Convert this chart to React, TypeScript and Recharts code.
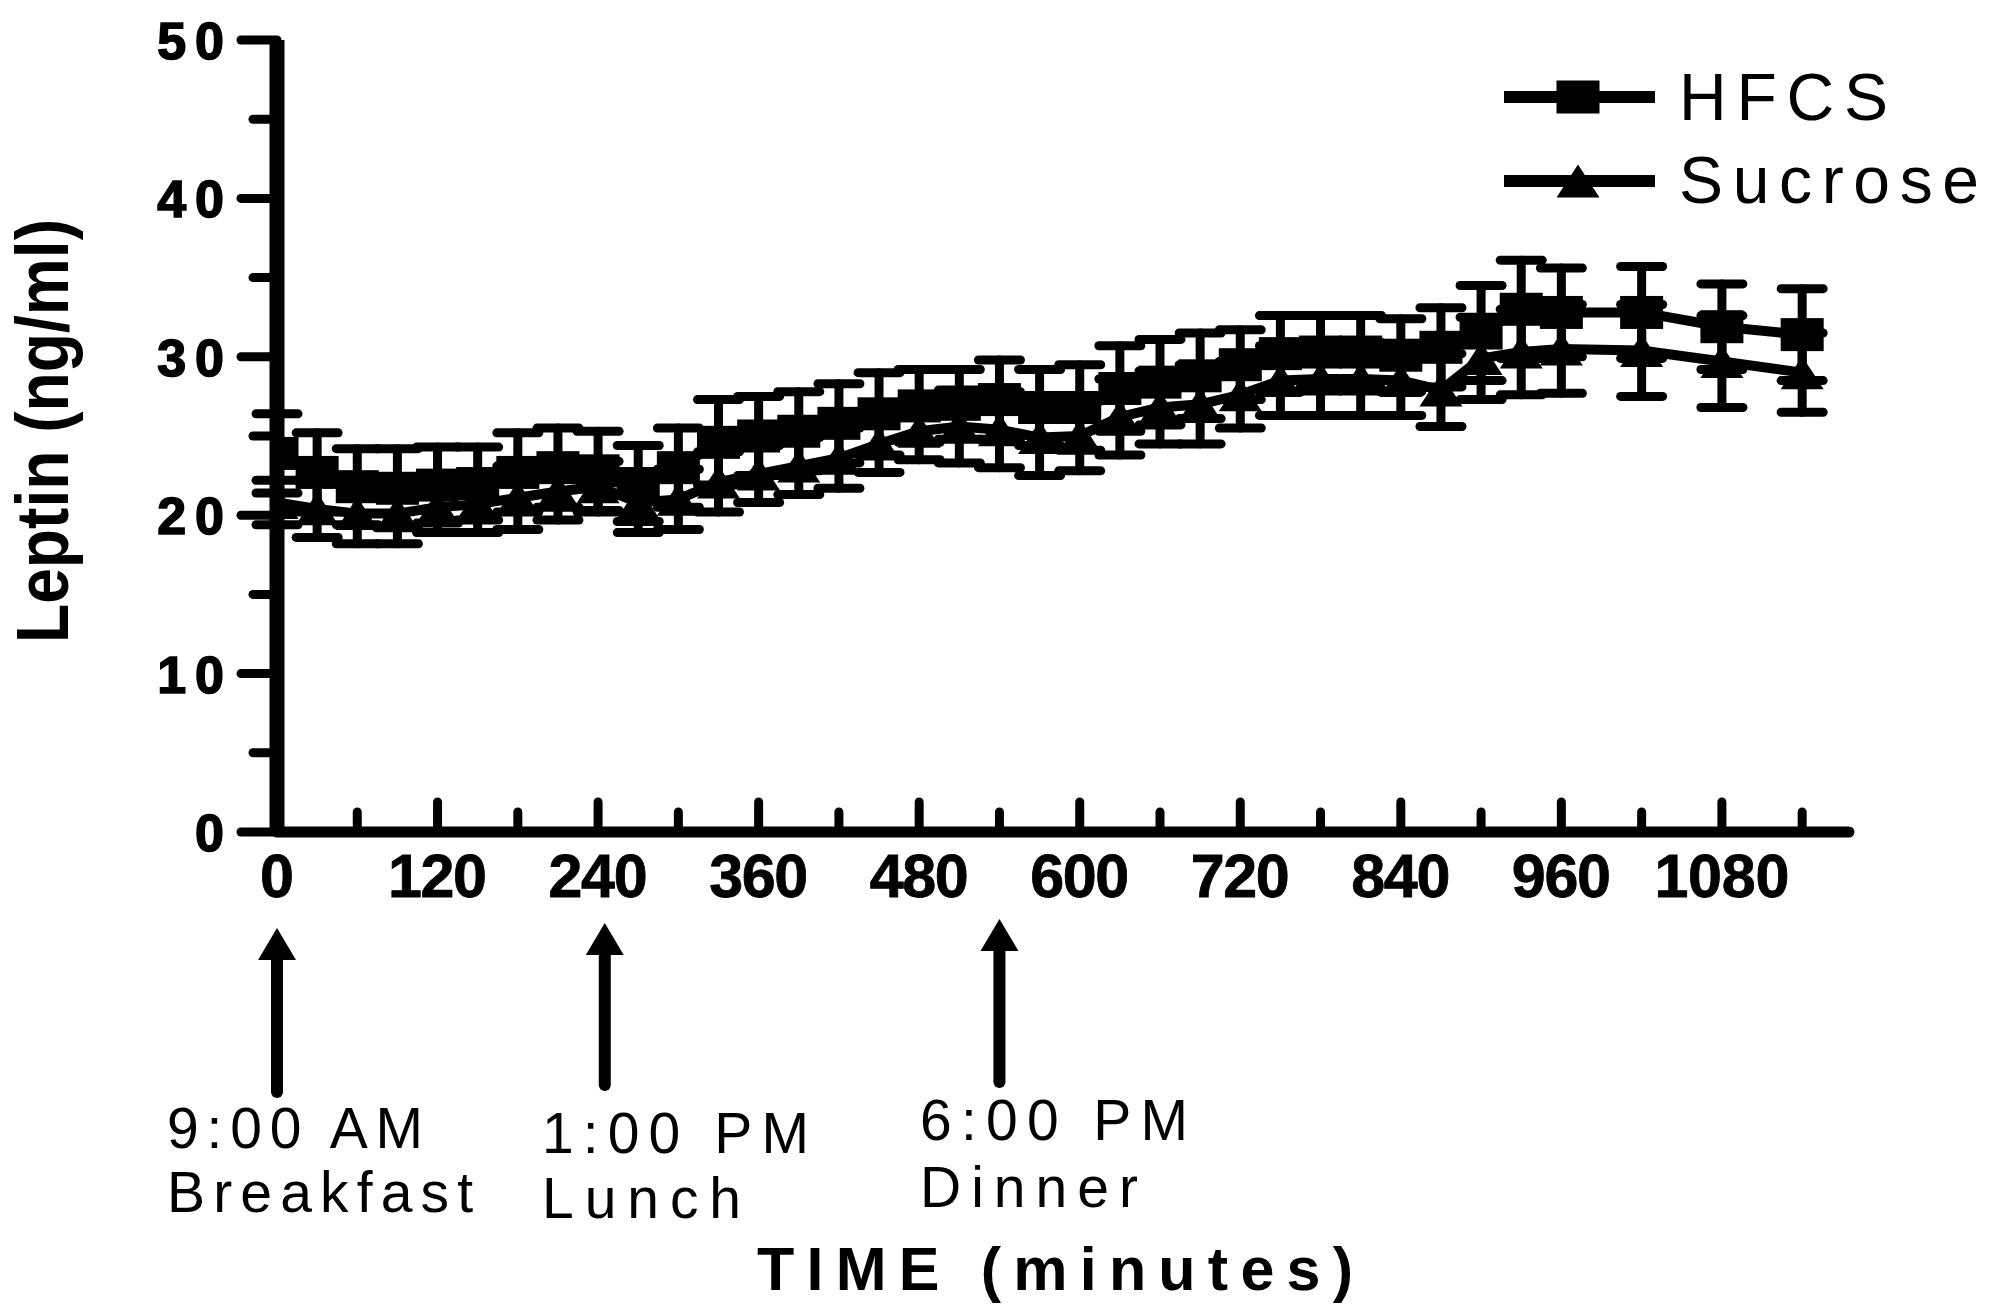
import React from 'react';
import { LineChart, Line, XAxis, YAxis, ErrorBar, Legend } from 'recharts';

// ---------- data ----------
const times = [0, 30, 60, 90, 120, 150, 180, 210, 240, 270, 300, 330, 360, 390, 420, 450, 480, 510, 540, 570, 600, 630, 660, 690, 720, 750, 780, 810, 840, 870, 900, 930, 960, 1020, 1080, 1140];
const hfcsMean = [23.9, 22.7, 21.8, 21.7, 21.9, 22.0, 22.7, 23.0, 22.8, 22.0, 23.0, 24.6, 25.0, 25.3, 25.8, 26.4, 26.9, 27.0, 27.3, 26.8, 26.8, 28.0, 28.4, 28.8, 29.5, 30.2, 30.3, 30.3, 30.1, 30.6, 31.5, 33.0, 32.8, 32.8, 31.9, 31.4];
const hfcsSem = [2.5, 2.5, 2.4, 2.5, 2.4, 2.3, 2.5, 2.5, 2.5, 2.4, 2.5, 2.7, 2.5, 2.5, 2.5, 2.6, 2.3, 2.2, 2.5, 2.4, 2.7, 2.7, 2.7, 2.7, 2.2, 2.4, 2.3, 2.3, 2.3, 2.5, 3.0, 3.1, 2.8, 2.9, 2.7, 2.9];
const sucroseMean = [20.8, 20.4, 20.1, 20.1, 20.5, 20.7, 21.1, 21.5, 21.8, 20.8, 21.0, 22.1, 22.6, 23.1, 23.6, 24.5, 25.3, 25.6, 25.4, 24.9, 25.0, 26.2, 26.8, 27.0, 27.6, 28.5, 28.6, 28.6, 28.5, 27.9, 29.9, 30.3, 30.5, 30.4, 29.7, 29.0];
const sucroseSem = [1.4, 1.8, 1.9, 1.9, 1.6, 1.8, 2.0, 1.8, 1.6, 1.9, 1.9, 1.9, 1.8, 1.8, 1.9, 1.8, 1.8, 2.3, 2.4, 2.4, 2.2, 2.4, 2.3, 2.5, 2.1, 2.2, 2.3, 2.3, 2.2, 2.3, 2.6, 2.7, 2.8, 2.9, 2.9, 2.5];

const xTicks = [0, 60, 120, 180, 240, 300, 360, 420, 480, 540, 600, 660, 720, 780, 840, 900, 960, 1020, 1080, 1140];
const xLabelTicks = [0, 120, 240, 360, 480, 600, 720, 840, 960, 1080];
const yTicks = [0, 5, 10, 15, 20, 25, 30, 35, 40, 45, 50];
const yLabelTicks = [0, 10, 20, 30, 40, 50];

const mealMinutes = [0, 245, 540];
const mealTimeLabels = ['9:00 AM', '1:00 PM', '6:00 PM'];
const mealNames = ['Breakfast', 'Lunch', 'Dinner'];

const seriesNames = ['HFCS', 'Sucrose'];
const xTitle = 'TIME (minutes)';
const yTitle = 'Leptin (ng/ml)';

const data = times.map((t, i) => ({
  time: t,
  hfcs: hfcsMean[i],
  hfcsErr: hfcsSem[i],
  sucrose: sucroseMean[i],
  sucroseErr: sucroseSem[i],
}));

// ---------- layout ----------
const W = 1990;
const H = 1305;
const X_MAX = 1175;
const PLOT_LEFT = 277;
const PLOT_RIGHT = 1849;
const PLOT_TOP = 40;
const PLOT_BOTTOM = 832;
const Y_AXIS_W = 10;
const X_AXIS_H = 30;
const FONT = '"Liberation Sans", Arial, sans-serif';
const NARROW = '"Liberation Sans Narrow", "Arial Narrow", "Liberation Sans", Arial, sans-serif';

const xOf = (t: number) => PLOT_LEFT + (t / X_MAX) * (PLOT_RIGHT - PLOT_LEFT);

// marker sizes
const MW = 43;
const MH = 33;

const SquareDot = (props: any) => {
  const { cx, cy, index } = props;
  if (cx == null || cy == null) return <g key={`s${index}`} />;
  return <rect key={`s${index}`} x={cx - MW / 2} y={cy - MH / 2} width={MW} height={MH} fill="#000" />;
};

const TriangleDot = (props: any) => {
  const { cx, cy, index } = props;
  if (cx == null || cy == null) return <g key={`t${index}`} />;
  const pts = `${cx},${cy - MH / 2} ${cx + MW / 2},${cy + MH / 2} ${cx - MW / 2},${cy + MH / 2}`;
  return <polygon key={`t${index}`} points={pts} fill="#000" />;
};

const XTick = (props: any) => {
  const { x, y, payload } = props;
  const v = payload.value as number;
  const major = xLabelTicks.includes(v);
  const label = String(v);
  return (
    <g>
      <line x1={x} x2={x} y1={y} y2={y - (major ? 30 : 20)} stroke="#000" strokeWidth={9} strokeLinecap="round" />
      {major && (
        <text
          x={x}
          y={y + 65}
          textAnchor="middle"
          fontFamily={NARROW}
          fontWeight="bold"
          fontSize={61}
          textLength={label.length * 36 - 9}
          lengthAdjust="spacing"
          stroke="#000"
          strokeWidth={0.8}
          fill="#000"
        >
          {label}
        </text>
      )}
    </g>
  );
};

const YTick = (props: any) => {
  const { x, y, payload } = props;
  const v = payload.value as number;
  const major = yLabelTicks.includes(v);
  return (
    <g>
      <line x1={x} x2={x - (major ? 36 : 24)} y1={y} y2={y} stroke="#000" strokeWidth={9} strokeLinecap="round" />
      {major && (
        <text x={x - 44} y={y + 19} textAnchor="end" fontFamily={FONT} fontWeight="bold" fontSize={52} letterSpacing={9} stroke="#000" strokeWidth={1.6} fill="#000">
          {String(v)}
        </text>
      )}
    </g>
  );
};

const LegendContent = () => {
  const rows = [
    { name: seriesNames[0], ly: 57, ty: 80, shape: 'square', len: 209 },
    { name: seriesNames[1], ly: 141, ty: 163, shape: 'triangle', len: 300 },
  ];
  return (
    <svg width={500} height={180} style={{ overflow: 'visible', display: 'block' }}>
      {rows.map((r) => (
        <g key={r.name}>
          <line x1={14} x2={165} y1={r.ly} y2={r.ly} stroke="#000" strokeWidth={12} />
          {r.shape === 'square' ? (
            <rect x={88 - MW / 2} y={r.ly - MH / 2} width={MW} height={MH} fill="#000" />
          ) : (
            <polygon points={`88,${r.ly - MH / 2} ${88 + MW / 2},${r.ly + MH / 2} ${88 - MW / 2},${r.ly + MH / 2}`} fill="#000" />
          )}
          <text x={189} y={r.ty} fontFamily={FONT} fontSize={66} textLength={r.len} lengthAdjust="spacing" fill="#000">
            {r.name}
          </text>
        </g>
      ))}
    </svg>
  );
};

const arrowTips = [928, 923, 919];
const arrowBottoms = [1092, 1085, 1082];
const labelLefts = [167, 542, 920];
const timeBaselines = [1148, 1153, 1140];
const nameBaselines = [1212, 1218, 1207];
const timeWidths = [256, 267, 268];
const nameWidths = [306, 199, 218];

export default function App() {
  return (
    <div style={{ position: 'absolute', left: 0, top: 0, width: W, height: H, background: '#fff' }}>
      <LineChart
        width={W}
        height={H}
        data={data}
        margin={{ top: PLOT_TOP, right: W - PLOT_RIGHT, bottom: H - PLOT_BOTTOM - X_AXIS_H, left: PLOT_LEFT - Y_AXIS_W }}
      >
        <XAxis
          type="number"
          dataKey="time"
          domain={[0, X_MAX]}
          ticks={xTicks}
          interval={0}
          tickLine={false}
          tickSize={0}
          tickMargin={0}
          height={X_AXIS_H}
          axisLine={{ stroke: '#000', strokeWidth: 11, strokeLinecap: 'round' }}
          tick={<XTick />}
          allowDataOverflow
        />
        <YAxis
          type="number"
          domain={[0, 50]}
          ticks={yTicks}
          interval={0}
          tickLine={false}
          tickSize={0}
          tickMargin={0}
          width={Y_AXIS_W}
          axisLine={{ stroke: '#000', strokeWidth: 15 }}
          tick={<YTick />}
        />
        <Legend
          layout="horizontal"
          verticalAlign="middle"
          align="center"
          content={<LegendContent />}
          wrapperStyle={{ left: 1490, top: 40, width: 500, height: 180 }}
        />
        <Line
          type="linear"
          dataKey="sucrose"
          name={seriesNames[1]}
          stroke="#000"
          strokeWidth={10}
          dot={TriangleDot}
          activeDot={false}
          isAnimationActive={false}
        >
          <ErrorBar dataKey="sucroseErr" width={21} strokeWidth={9} stroke="#000" strokeLinecap="round" isAnimationActive={false} />
        </Line>
        <Line
          type="linear"
          dataKey="hfcs"
          name={seriesNames[0]}
          stroke="#000"
          strokeWidth={10}
          dot={SquareDot}
          activeDot={false}
          isAnimationActive={false}
        >
          <ErrorBar dataKey="hfcsErr" width={21} strokeWidth={9} stroke="#000" strokeLinecap="round" isAnimationActive={false} />
        </Line>
      </LineChart>
      <svg width={W} height={H} style={{ position: 'absolute', left: 0, top: 0, pointerEvents: 'none' }}>
        {mealMinutes.map((m, i) => {
          const ax = xOf(m);
          const tip = arrowTips[i];
          return (
            <g key={`arrow${i}`}>
              <line x1={ax} x2={ax} y1={arrowBottoms[i]} y2={tip + 25} stroke="#000" strokeWidth={12} strokeLinecap="round" />
              <polygon points={`${ax},${tip} ${ax + 19},${tip + 32} ${ax - 19},${tip + 32}`} fill="#000" />
              <text x={labelLefts[i]} y={timeBaselines[i]} fontFamily={NARROW} fontSize={57} textLength={timeWidths[i]} lengthAdjust="spacing" fill="#000">
                {mealTimeLabels[i]}
              </text>
              <text x={labelLefts[i]} y={nameBaselines[i]} fontFamily={NARROW} fontSize={57} textLength={nameWidths[i]} lengthAdjust="spacing" fill="#000">
                {mealNames[i]}
              </text>
            </g>
          );
        })}
        <text x={757} y={1290} fontFamily={NARROW} fontWeight="bold" fontSize={61} textLength={596} lengthAdjust="spacing" fill="#000">
          {xTitle}
        </text>
        <text
          x={68}
          y={431}
          transform="rotate(-90, 68, 431)"
          textAnchor="middle"
          fontFamily={NARROW}
          fontWeight="bold"
          fontSize={74}
          textLength={424}
          lengthAdjust="spacingAndGlyphs"
          fill="#000"
        >
          {yTitle}
        </text>
      </svg>
    </div>
  );
}
